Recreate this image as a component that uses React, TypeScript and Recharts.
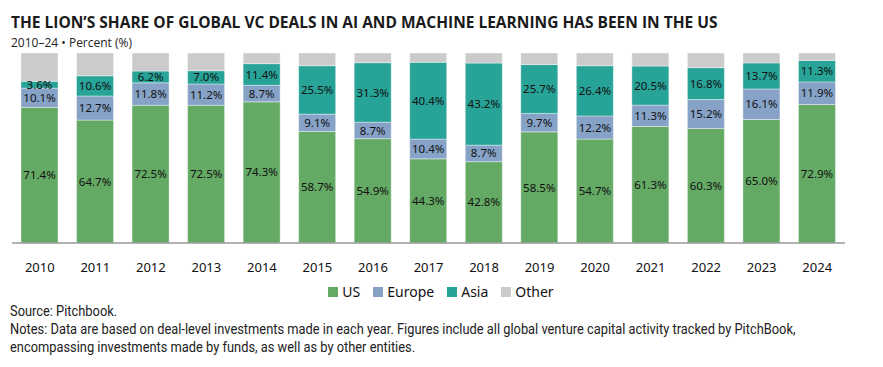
import React from "react";
import { BarChart, Bar, XAxis, YAxis, LabelList } from "recharts";

// values, percent of global AI/ML VC deals
const years = ["2010", "2011", "2012", "2013", "2014", "2015", "2016", "2017", "2018", "2019", "2020", "2021", "2022", "2023", "2024"];
const us = [71.4, 64.7, 72.5, 72.5, 74.3, 58.7, 54.9, 44.3, 42.8, 58.5, 54.7, 61.3, 60.3, 65.0, 72.9];
const europe = [10.1, 12.7, 11.8, 11.2, 8.7, 9.1, 8.7, 10.4, 8.7, 9.7, 12.2, 11.3, 15.2, 16.1, 11.9];
const asia = [3.6, 10.6, 6.2, 7.0, 11.4, 25.5, 31.3, 40.4, 43.2, 25.7, 26.4, 20.5, 16.8, 13.7, 11.3];
const other = [14.9, 12.0, 9.5, 9.3, 5.6, 6.7, 5.1, 4.9, 5.3, 6.1, 6.7, 6.9, 7.7, 5.2, 3.9];

const series = [
  { key: "us", name: "US", color: "#64a964", label: true },
  { key: "europe", name: "Europe", color: "#86a2c7", label: true },
  { key: "asia", name: "Asia", color: "#27a397", label: true },
  { key: "other", name: "Other", color: "#cbcbcb", label: false },
];

const data = years.map((year, i) => ({
  year,
  us: us[i],
  europe: europe[i],
  asia: asia[i],
  other: other[i],
}));

const fmt = (v: any) => `${Number(v).toFixed(1)}%`;

const labelFont = "'Noto Sans', sans-serif";

export default function App() {
  return (
    <div style={{ position: "absolute", left: 0, top: 0, width: 883, height: 367, background: "#fff", overflow: "hidden" }}>
      <div
        style={{
          position: "absolute",
          left: 11,
          top: 11,
          fontFamily: "'Open Sans', sans-serif",
          fontWeight: 700,
          fontSize: 15.5,
          color: "#1a1a1a",
          whiteSpace: "nowrap",
        }}
      >
        THE LION’S SHARE OF GLOBAL VC DEALS IN AI AND MACHINE LEARNING HAS BEEN IN THE US
      </div>
      <div
        style={{
          position: "absolute",
          left: 11,
          top: 34,
          fontFamily: "'Open Sans', sans-serif",
          fontSize: 12,
          color: "#222",
          whiteSpace: "nowrap",
        }}
      >
        2010–24 • Percent (%)
      </div>

      <div style={{ position: "absolute", left: 0, top: 0 }}>
        <BarChart
          width={883}
          height={290}
          data={data}
          margin={{ top: 53, right: 38, left: 12, bottom: 0 }}
          barSize={37}
        >
          <YAxis hide domain={[0, 100]} />
          <XAxis
            dataKey="year"
            axisLine={{ stroke: "#999", strokeWidth: 1.5 }}
            tickLine={false}
            tickMargin={14}
            height={47}
            tick={{ fill: "#111", fontSize: 13, fontFamily: labelFont }}
          />
          {series.map((s) => (
            <Bar
              key={s.key}
              dataKey={s.key}
              name={s.name}
              stackId="a"
              fill={s.color}
              stroke="#fff"
              strokeWidth={0.4}
              isAnimationActive={false}
            >
              {s.label && (
                <LabelList
                  dataKey={s.key}
                  position="center"
                  formatter={fmt}
                  fill="#111"
                  fontSize={11.5}
                  fontFamily={labelFont}
                />
              )}
            </Bar>
          ))}
        </BarChart>
      </div>

      <div
        style={{
          position: "absolute",
          left: 0,
          width: 883,
          top: 282,
          display: "flex",
          justifyContent: "center",
          fontFamily: labelFont,
          fontSize: 14,
          color: "#111",
        }}
      >
        <div style={{ display: "flex", marginLeft: 12 }}>
          {series.map((s) => (
            <div key={s.key} style={{ display: "flex", alignItems: "center", marginRight: 13 }}>
              <span style={{ display: "inline-block", width: 10, height: 10, background: s.color, marginRight: 4 }} />
              <span>{s.name}</span>
            </div>
          ))}
        </div>
      </div>

      <div
        style={{
          position: "absolute",
          left: 10,
          top: 302,
          fontFamily: "'Roboto', sans-serif",
          fontSize: 14,
          lineHeight: "18px",
          color: "#222",
          whiteSpace: "nowrap",
          transform: "scaleX(0.918)",
          transformOrigin: "left top",
        }}
      >
        <div>Source: Pitchbook.</div>
        <div>
          Notes: Data are based on deal-level investments made in each year. Figures include all global venture capital activity tracked by PitchBook,
        </div>
        <div>encompassing investments made by funds, as well as by other entities.</div>
      </div>
    </div>
  );
}
